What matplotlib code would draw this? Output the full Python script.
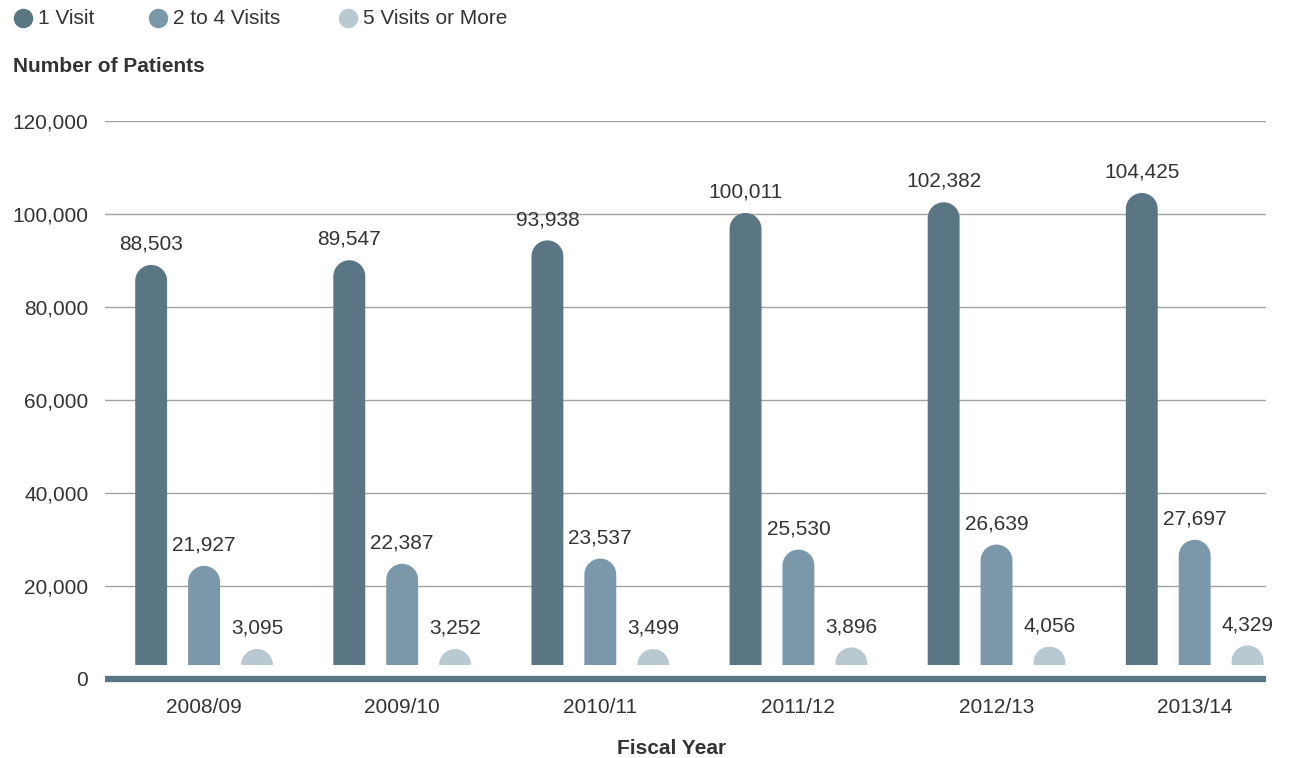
import matplotlib
matplotlib.use("Agg")
import matplotlib.pyplot as plt
from matplotlib.patches import Polygon
from matplotlib.lines import Line2D
from matplotlib.ticker import FuncFormatter
import numpy as np

plt.rcParams['font.family'] = ['Liberation Sans', 'DejaVu Sans']

# ---- data ----
years = ["2008/09", "2009/10", "2010/11", "2011/12", "2012/13", "2013/14"]
series_names = ["1 Visit", "2 to 4 Visits", "5 Visits or More"]
one_visit = [88503, 89547, 93938, 100011, 102382, 104425]
two_to_four = [21927, 22387, 23537, 25530, 26639, 27697]
five_plus = [3095, 3252, 3499, 3896, 4056, 4329]
y_ticks = [0, 20000, 40000, 60000, 80000, 100000, 120000]

colors = ["#5a7684", "#7a98aa", "#b8c9d2"]
text_color = "#333333"
grid_color = "#a3a3a3"
fs = 15

W, H, DPI = 1297, 758, 100
fig = plt.figure(figsize=(W / DPI, H / DPI), dpi=DPI)

left, right, bottom, top = 105 / W, 1266 / W, (H - 679) / H, (H - 121) / H
ax = fig.add_axes([left, bottom, right - left, top - bottom])
xlim = (-0.5, 5.36)
ax.set_xlim(*xlim)
ax.set_ylim(0, 120000)

# grid lines and axis styling
for t in y_ticks[1:]:
    ax.axhline(t, color=grid_color, lw=1.0, zorder=0)
ax.axhline(0, color=colors[0], lw=4.5, zorder=3, clip_on=False, solid_capstyle="butt")
for s in ax.spines.values():
    s.set_visible(False)
ax.set_yticks(y_ticks)
ax.yaxis.set_major_formatter(FuncFormatter(lambda v, p: f"{int(v):,}"))
ax.tick_params(axis="y", length=0, pad=12, labelsize=fs, labelcolor=text_color)
x = np.arange(len(years))
ax.set_xticks(x)
ax.set_xticklabels(years)
ax.tick_params(axis="x", length=0, pad=14, labelsize=fs, labelcolor=text_color)

# bars live on a twin axis whose zero sits just above the baseline
ax2 = ax.twinx()
ax2.set_ylim(-3097, 120354)
ax2.set_xlim(*xlim)
ax2.set_yticks([])
for s in ax2.spines.values():
    s.set_visible(False)

bar_w = 0.161
offsets = [-0.267, 0.0, 0.267]
ax_w_px = (right - left) * W
ax_h_px = (top - bottom) * H
px_per_x = ax_w_px / (xlim[1] - xlim[0])
px_per_y = ax_h_px / (120354 + 3097)
r_y = (bar_w / 2) * px_per_x / px_per_y
theta = np.linspace(0, np.pi, 60)

def rounded_bar(axis, cx, value, color):
    top_y = max(value, r_y)
    cy = top_y - r_y
    pts = [(cx - bar_w / 2, 0), (cx + bar_w / 2, 0)]
    pts += [(cx + bar_w / 2 * np.cos(t), cy + r_y * np.sin(t)) for t in theta]
    pts += [(cx - bar_w / 2, cy)]
    axis.add_patch(Polygon(pts, closed=True, facecolor=color, edgecolor="none", zorder=2))
    axis.annotate(f"{value:,}", (cx, top_y), xytext=(0, 11), textcoords="offset points",
                  ha="center", va="baseline", fontsize=fs, color=text_color)

for vals, off, col in zip([one_visit, two_to_four, five_plus], offsets, colors):
    for i, v in enumerate(vals):
        rounded_bar(ax2, x[i] + off, v, col)

# legend
leg_x = [23, 158, 348]
for name, lx, col in zip(series_names, leg_x, colors):
    fig.add_artist(Line2D([lx / W], [1 - 18 / H], marker="o", markersize=13,
                          color=col, linestyle="none", transform=fig.transFigure))
    fig.text((lx + 15) / W, 1 - 18 / H, name, fontsize=fs, color=text_color,
             ha="left", va="center")

fig.text(13 / W, 1 - 67 / H, "Number of Patients", fontsize=15, fontweight="bold",
         color=text_color, ha="left", va="center")
fig.text(672 / W, 1 - 749 / H, "Fiscal Year", fontsize=15, fontweight="bold",
         color=text_color, ha="center", va="center")

fig.savefig("out.png", dpi=DPI)
